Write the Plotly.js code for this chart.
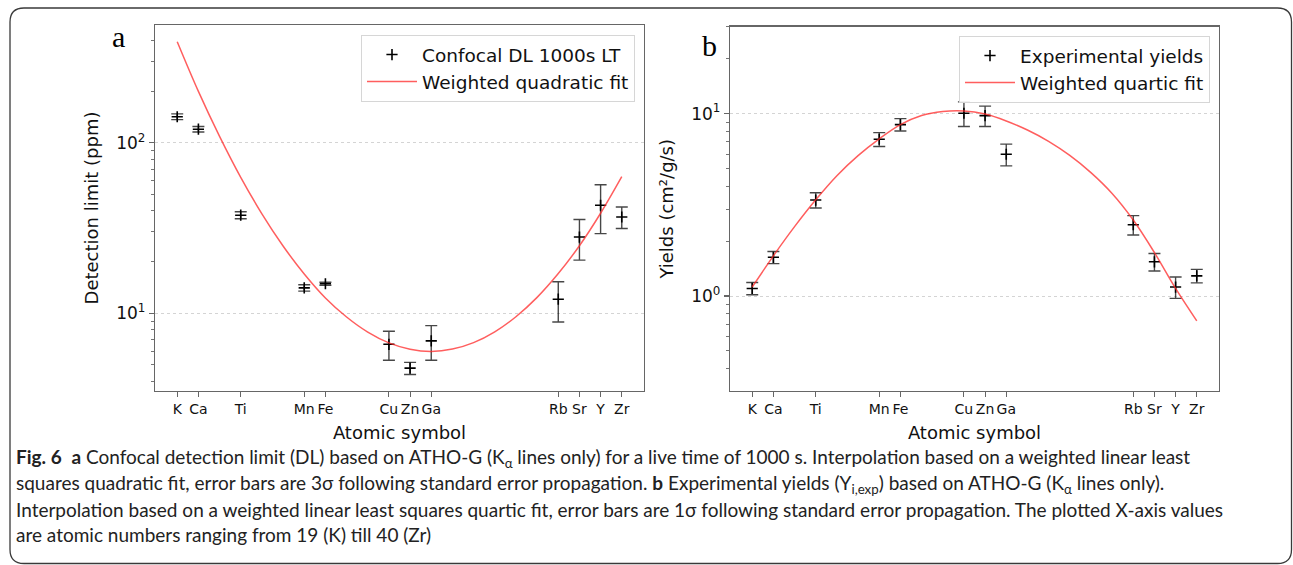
<!DOCTYPE html>
<html>
<head>
<meta charset="utf-8">
<script src="https://cdn.plot.ly/plotly-3.0.1.min.js"></script>
<style>
  html, body { margin: 0; padding: 0; background: #fff; }
  #chart { width: 1293px; height: 565px; }
</style>
</head>
<body>
<div id="chart"></div>
<script>
// ---------------- data ----------------
const symbols = ['K', 'Ca', 'Ti', 'Mn', 'Fe', 'Cu', 'Zn', 'Ga', 'Rb', 'Sr', 'Y', 'Zr'];
const atomicNumbers = [19, 20, 22, 25, 26, 29, 30, 31, 37, 38, 39, 40];

// panel a: confocal detection limit (ppm), 3 sigma errors
const dlValues = [142, 120, 37.6, 14.1, 14.9, 6.58, 4.77, 6.89, 12.1, 28.0, 43.0, 36.7];
const dlErrors = [5.5, 4.5, 1.8, 0.6, 0.3, 1.27, 0.39, 1.58, 3.2, 7.5, 13.7, 5.3];

// panel b: experimental yields (cm2/g/s), 1 sigma errors
const yieldValues = [1.10, 1.63, 3.36, 7.24, 8.71, 10.05, 9.75, 5.99, 2.46, 1.54, 1.12, 1.29];
const yieldErrors = [0.085, 0.125, 0.32, 0.63, 0.68, 1.55, 1.25, 0.82, 0.30, 0.17, 0.15, 0.11];

// fitted curves at integer atomic numbers
const fitX = [19, 20, 21, 22, 23, 24, 25, 26, 27, 28, 29, 30, 31, 32, 33, 34, 35, 36, 37, 38, 39, 40];
const fitQuadratic = [391, 200, 109, 62.7, 38.3, 24.8, 17.0, 12.3, 9.51, 7.76, 6.71, 6.16, 5.98, 6.17, 6.73, 7.79, 9.55, 12.4, 17.1, 24.9, 38.6, 63.2];
const fitQuartic = [1.12, 1.66, 2.40, 3.37, 4.57, 5.89, 7.28, 8.71, 9.77, 10.28, 10.35, 9.95, 9.12, 8.13, 7.05, 5.90, 4.75, 3.65, 2.61, 1.73, 1.10, 0.73];

// tick labels
const majorTicksA = [10, 100];
const majorLabelsA = ['10<sup>1</sup>', '10<sup>2</sup>'];
const minorTicksA = [4, 5, 6, 7, 8, 9, 20, 30, 40, 50, 60, 70, 80, 90, 200, 300, 400];
const majorTicksB = [1, 10];
const majorLabelsB = ['10<sup>0</sup>', '10<sup>1</sup>'];
const minorTicksB = [0.4, 0.5, 0.6, 0.7, 0.8, 0.9, 2, 3, 4, 5, 6, 7, 8, 9, 20, 30];

const captionLines = [
  '<b>Fig. 6</b>\u00a0\u00a0<b>a</b> Confocal detection limit (DL) based on ATHO-G (K<sub>α</sub> lines only) for a live time of 1000 s. Interpolation based on a weighted linear least',
  'squares quadratic fit, error bars are 3σ following standard error propagation. <b>b</b> Experimental yields (Y<sub>i,exp</sub>) based on ATHO-G (K<sub>α</sub> lines only).',
  'Interpolation based on a weighted linear least squares quartic fit, error bars are 1σ following standard error propagation. The plotted X-axis values',
  'are atomic numbers ranging from 19 (K) till 40 (Zr)'
];

// ---------------- layout helpers ----------------
const W = 1293, H = 565;
const px = v => v / W;
const py = v => 1 - v / H;

const FONT = 'DejaVu Sans, sans-serif';
const TXT = '#111';
const AXC = '#666';

const markerStyle = { symbol: 'cross-thin', size: 8, color: '#000', line: { color: '#000', width: 1.6 } };
const errStyle = { type: 'data', symmetric: true, color: 'rgba(0,0,0,0.72)', thickness: 1.4, width: 6 };
const fitLine = { color: 'rgba(255,40,40,0.75)', width: 1.5, shape: 'spline', smoothing: 1 };

const traces = [
  { type: 'scatter', mode: 'markers', x: atomicNumbers, y: dlValues, name: 'Confocal DL 1000s LT',
    marker: markerStyle, error_y: Object.assign({ array: dlErrors }, errStyle), xaxis: 'x', yaxis: 'y', legend: 'legend' },
  { type: 'scatter', mode: 'lines', x: fitX, y: fitQuadratic, name: 'Weighted quadratic fit',
    line: fitLine, xaxis: 'x', yaxis: 'y', legend: 'legend' },
  { type: 'scatter', mode: 'markers', x: atomicNumbers, y: yieldValues, name: 'Experimental yields',
    marker: markerStyle, error_y: Object.assign({ array: yieldErrors }, errStyle), xaxis: 'x2', yaxis: 'y2', legend: 'legend2' },
  { type: 'scatter', mode: 'lines', x: fitX, y: fitQuartic, name: 'Weighted quartic fit',
    line: fitLine, xaxis: 'x2', yaxis: 'y2', legend: 'legend2' },
  // carriers for the minor-tick axes
  { type: 'scatter', mode: 'markers', x: [], y: [], xaxis: 'x', yaxis: 'y3', showlegend: false, hoverinfo: 'skip' },
  { type: 'scatter', mode: 'markers', x: [], y: [], xaxis: 'x2', yaxis: 'y4', showlegend: false, hoverinfo: 'skip' }
];

function xAxis(domain, anchor) {
  return {
    domain: domain, anchor: anchor, range: [17.95, 41.05],
    tickmode: 'array', tickvals: atomicNumbers, ticktext: symbols, tickangle: 0,
    ticks: 'outside', ticklen: 5, tickwidth: 1.1, tickcolor: AXC,
    showline: true, mirror: true, linecolor: AXC, linewidth: 1.2,
    showgrid: false, zeroline: false,
    tickfont: { family: FONT, size: 14, color: TXT },
    title: { text: 'Atomic symbol', font: { family: FONT, size: 18, color: TXT }, standoff: 10 }
  };
}
function yAxis(domain, anchor, range, tv, tt, title) {
  return {
    domain: domain, anchor: anchor, type: 'log', range: range,
    tickmode: 'array', tickvals: tv, ticktext: tt,
    ticks: 'outside', ticklen: 5, tickwidth: 1.1, tickcolor: AXC,
    showline: true, mirror: true, linecolor: AXC, linewidth: 1.2,
    showgrid: true, gridcolor: '#d4d4d4', gridwidth: 1, griddash: 'dot', zeroline: false,
    tickfont: { family: FONT, size: 17, color: TXT },
    title: { text: title, font: { family: FONT, size: 18, color: TXT }, standoff: 12 }
  };
}
function minorAxis(overlay, anchor, range, tv) {
  return {
    overlaying: overlay, anchor: anchor, side: 'left', type: 'log', range: range,
    tickmode: 'array', tickvals: tv, showticklabels: false,
    ticks: 'outside', ticklen: 3, tickwidth: 0.9, tickcolor: AXC,
    showline: false, showgrid: false, zeroline: false
  };
}

const rangeA = [0.5446, 2.690];
const rangeB = [-0.521, 1.478];

// outer rounded frame (paper coordinates)
function roundedRect(x0, y0, x1, y1, r) {
  const rx = r / W, ry = r / H;
  const X0 = px(x0), X1 = px(x1), Y0 = py(y0), Y1 = py(y1);
  return `M ${X0 + rx} ${Y0} L ${X1 - rx} ${Y0} Q ${X1} ${Y0} ${X1} ${Y0 - ry} ` +
         `L ${X1} ${Y1 + ry} Q ${X1} ${Y1} ${X1 - rx} ${Y1} ` +
         `L ${X0 + rx} ${Y1} Q ${X0} ${Y1} ${X0} ${Y1 + ry} ` +
         `L ${X0} ${Y0 - ry} Q ${X0} ${Y0} ${X0 + rx} ${Y0} Z`;
}

const captionY = [458, 483.5, 509, 534.5];
const annotations = [
  { text: 'a', xref: 'paper', yref: 'paper', x: px(118), y: py(36), xanchor: 'center', yanchor: 'middle',
    showarrow: false, font: { family: 'Liberation Serif, serif', size: 30, color: '#000' } },
  { text: 'b', xref: 'paper', yref: 'paper', x: px(709), y: py(45), xanchor: 'center', yanchor: 'middle',
    showarrow: false, font: { family: 'Liberation Serif, serif', size: 30, color: '#000' } }
].concat(captionLines.map((t, i) => ({
  text: t, xref: 'paper', yref: 'paper', x: px(14), y: py(captionY[i]), xanchor: 'left', yanchor: 'middle',
  showarrow: false, align: 'left', font: { family: 'Lato, Open Sans, sans-serif', size: 19, color: '#222' }
})));

const legendBase = {
  bgcolor: 'rgba(255,255,255,0.9)', bordercolor: '#d6d6d6', borderwidth: 1,
  font: { family: FONT, size: 18.5, color: TXT }, xanchor: 'right', yanchor: 'top',
  tracegroupgap: 0, itemwidth: 50
};

const layout = {
  width: W, height: H,
  margin: { l: 0, r: 0, t: 0, b: 0 },
  paper_bgcolor: '#fff', plot_bgcolor: '#fff',
  showlegend: true,
  xaxis: xAxis([px(155), px(644)], 'y'),
  yaxis: yAxis([py(391), py(25)], 'x', rangeA, majorTicksA, majorLabelsA, 'Detection limit (ppm)'),
  xaxis2: xAxis([px(730), px(1219)], 'y2'),
  yaxis2: yAxis([py(391), py(26.5)], 'x2', rangeB, majorTicksB, majorLabelsB, 'Yields (cm²/g/s)'),
  yaxis3: minorAxis('y', 'x', rangeA, minorTicksA),
  yaxis4: minorAxis('y2', 'x2', rangeB, minorTicksB),
  legend: Object.assign({ x: px(635), y: py(35) }, legendBase),
  legend2: Object.assign({ x: px(1210), y: py(36) }, legendBase),
  annotations: annotations,
  shapes: [
    { type: 'path', xref: 'paper', yref: 'paper', path: roundedRect(10, 8, 1291.5, 563.5, 14),
      line: { color: '#3a3a3a', width: 1.3 }, fillcolor: 'rgba(0,0,0,0)' }
  ]
};

Plotly.newPlot('chart', traces, layout, { displayModeBar: false, staticPlot: true });
</script>
</body>
</html>
